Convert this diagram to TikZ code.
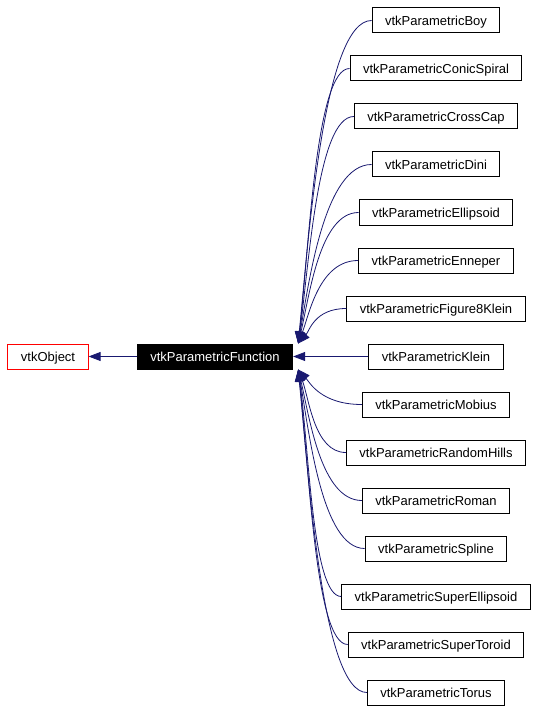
\documentclass[tikz,border=0pt]{standalone}
\usepackage{fontspec}
\setmainfont{Liberation Sans}
\usetikzlibrary{positioning,calc,arrows.meta}
\definecolor{edgeblue}{RGB}{25,25,112}
\tikzstyle{class} = [draw,line width=1pt,minimum height=25pt,inner sep=0pt,inner xsep=13pt,text height=9.4pt,text depth=0pt,font=\fontsize{13}{15}\selectfont]
\tikzstyle{inherit} = [draw=edgeblue,line width=0.8pt,-{Triangle[length=12pt,width=9pt]}]

\begin{document}
\begin{tikzpicture}[x=1pt,y=-1pt,node distance=48pt]
  \useasboundingbox (0,0) rectangle (538,711);
  \node[class,draw=red,minimum width=80pt] (object) at (48,356.5) {vtkObject};
  \node[class,fill=black,text=white,minimum width=154pt] (function) at (215,356.5) {vtkParametricFunction};
  % derived classes
  \node[class] (boy) at (436,20.5) {vtkParametricBoy};
  \node[class] (conicspiral) [below of=boy] {vtkParametricConicSpiral};
  \node[class] (crosscap) [below of=conicspiral] {vtkParametricCrossCap};
  \node[class] (dini) [below of=crosscap] {vtkParametricDini};
  \node[class] (ellipsoid) [below of=dini] {vtkParametricEllipsoid};
  \node[class] (enneper) [below of=ellipsoid] {vtkParametricEnneper};
  \node[class] (figure8klein) [below of=enneper] {vtkParametricFigure8Klein};
  \node[class] (klein) [below of=figure8klein] {vtkParametricKlein};
  \node[class] (mobius) [below of=klein] {vtkParametricMobius};
  \node[class] (randomhills) [below of=mobius] {vtkParametricRandomHills};
  \node[class] (roman) [below of=randomhills] {vtkParametricRoman};
  \node[class] (spline) [below of=roman] {vtkParametricSpline};
  \node[class] (superellipsoid) [below of=spline] {vtkParametricSuperEllipsoid};
  \node[class] (supertoroid) [below of=superellipsoid] {vtkParametricSuperToroid};
  \node[class] (torus) [below of=supertoroid] {vtkParametricTorus};
  % inheritance edges
  \draw[inherit] (function) -- (object);
  \draw[inherit] (klein) -- (function);
  \foreach \c in {boy,conicspiral,crosscap,dini,ellipsoid,enneper,figure8klein}
    \draw[inherit] (\c.west) .. controls ($(\c.west)!0.6!(\c.west -| function.north east)$)
      and ($(function.north east)!0.35!(function.north east |- \c.west)+(16,0)$) .. ($(function.north east)+(5,0)$);
  \foreach \c in {mobius,randomhills,roman,spline,superellipsoid,supertoroid,torus}
    \draw[inherit] (\c.west) .. controls ($(\c.west)!0.6!(\c.west -| function.south east)$)
      and ($(function.south east)!0.35!(function.south east |- \c.west)+(16,0)$) .. ($(function.south east)+(5,0)$);
\end{tikzpicture}
\end{document}
